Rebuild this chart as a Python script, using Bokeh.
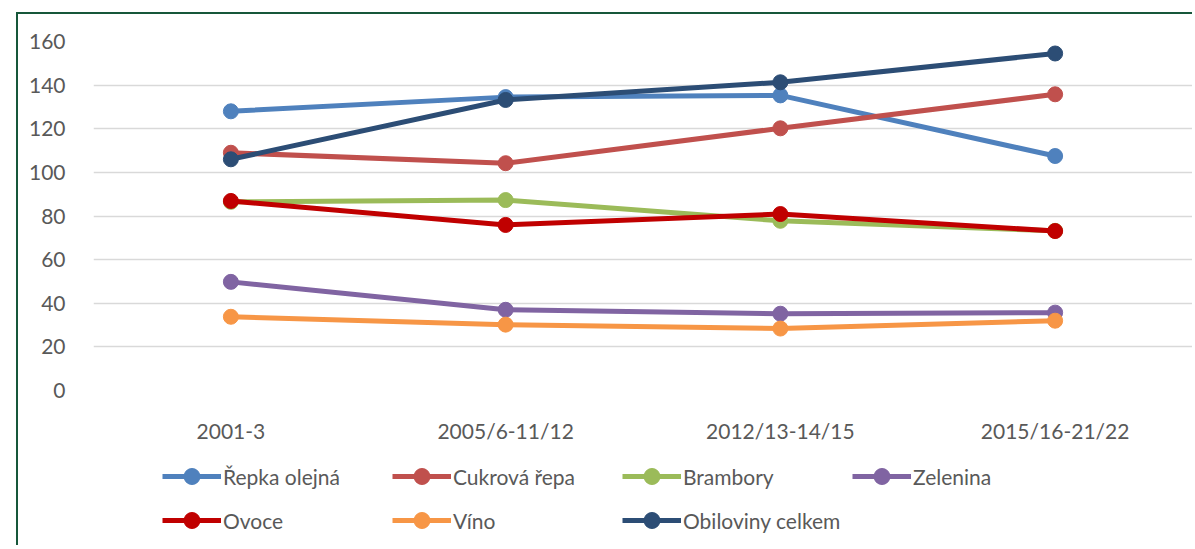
from bokeh.plotting import figure
from bokeh.models import (FactorRange, Range1d, Legend, LegendItem,
                          SingleIntervalTicker, InlineStyleSheet)
from bokeh.layouts import column
from bokeh.embed import file_html
from bokeh.resources import INLINE

# ---- data ----
periods = ["2001-3", "2005/6-11/12", "2012/13-14/15", "2015/16-21/22"]
repka = [128, 134.5, 135.3, 107.5]
cukrova = [109, 104.2, 120.2, 135.8]
brambory = [86.5, 87.3, 77.8, 73.2]
zelenina = [49.8, 37.0, 35.2, 35.7]
ovoce = [86.9, 75.9, 80.9, 73.1]
vino = [33.8, 30.2, 28.4, 32.0]
obiloviny = [106, 133.2, 141.3, 154.5]

series_names = ["Řepka olejná", "Cukrová řepa", "Brambory", "Zelenina",
                "Ovoce", "Víno", "Obiloviny celkem"]
series_values = [repka, cukrova, brambory, zelenina, ovoce, vino, obiloviny]
series_colors = ["#4F81BD", "#C0504D", "#9BBB59", "#8064A2",
                 "#C00000", "#F79646", "#2C4D75"]

FONT = "Lato"
TXT = "#595959"
FS = "21px"

p = figure(x_range=FactorRange(*periods, range_padding=0),
           y_range=Range1d(0, 160),
           width=1192, height=445,
           min_border_left=93, min_border_right=0,
           min_border_top=41, min_border_bottom=54,
           output_backend="svg", toolbar_location=None)

p.outline_line_color = None
p.background_fill_color = "white"
p.border_fill_color = "white"

p.xgrid.grid_line_color = None
p.ygrid.grid_line_color = "#D9D9D9"
p.ygrid.grid_line_width = 1.5

p.yaxis.ticker = SingleIntervalTicker(interval=20)
for ax in (p.xaxis[0], p.yaxis[0]):
    ax.axis_line_color = None
    ax.major_tick_line_color = None
    ax.minor_tick_line_color = None
    ax.major_label_text_font = FONT
    ax.major_label_text_font_size = FS
    ax.major_label_text_color = TXT
p.yaxis.major_label_standoff = 22
p.xaxis.major_label_standoff = 21

# legend figure (same series, drawn off-view; only its legend is visible)
pl = figure(width=1192, height=100,
            x_range=FactorRange(*periods, range_padding=0),
            y_range=Range1d(1000, 1001),
            min_border=0, x_axis_location=None, y_axis_location=None,
            output_backend="svg", toolbar_location=None)
pl.outline_line_color = None
pl.grid.grid_line_color = None
pl.border_fill_color = "white"
pl.background_fill_color = "white"

items = []
for name, vals, col in zip(series_names, series_values, series_colors):
    p.line(periods, vals, line_color=col, line_width=5)
    p.scatter(periods, vals, size=15, fill_color=col, line_color=col)
    l1 = pl.line(periods, vals, line_color=col, line_width=5)
    l2 = pl.scatter(periods, vals, size=13, fill_color=col, line_color=col)
    items.append(LegendItem(label=name, renderers=[l1, l2]))

legend = Legend(items=items, orientation="horizontal", ncols=4,
                location=(69, 5), border_line_color=None,
                background_fill_alpha=0,
                glyph_width=59, glyph_height=40, label_height=40,
                label_width=165, label_standoff=2, spacing=4, padding=0, margin=0,
                label_text_font=FONT, label_text_font_size=FS,
                label_text_color=TXT)
pl.add_layout(legend, "center")

layout = column(p, pl, spacing=0)
layout.stylesheets = [InlineStyleSheet(css="""
:host::after {
  content: ""; position: absolute; left: 16px; top: 12px; right: 0; bottom: 0;
  border-left: 2.5px solid #17573A; border-top: 2.5px solid #17573A;
  pointer-events: none;
}
""")]

open("out.html", "w").write(file_html(layout, INLINE))
